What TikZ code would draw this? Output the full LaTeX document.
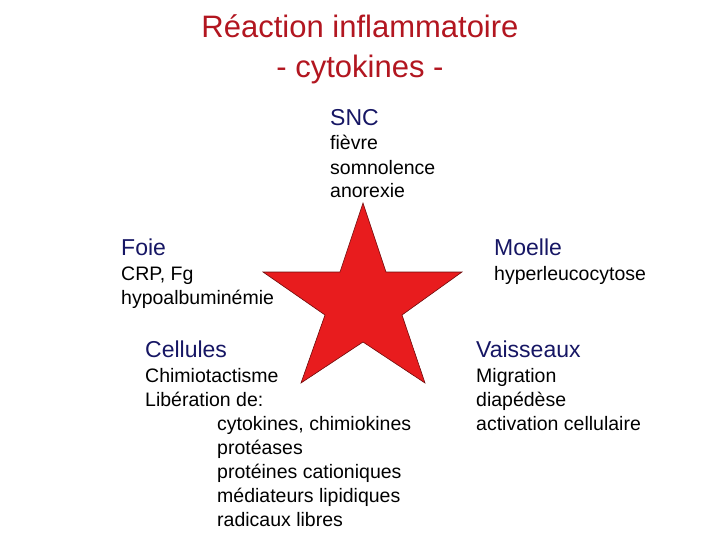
\documentclass[tikz,border=0pt]{standalone}
\usepackage{fontspec}
\setmainfont{Liberation Sans}
\usepackage{tikz}
\usetikzlibrary{positioning}

\definecolor{titlered}{RGB}{178,22,32}
\definecolor{headnavy}{RGB}{22,22,100}
\definecolor{starred}{RGB}{232,28,30}
\definecolor{starline}{RGB}{110,10,10}

\begin{document}
\begin{tikzpicture}[
    x=1pt, y=-1pt,
    title/.style={text=titlered, align=center, inner sep=0pt, font=\fontsize{31}{40}\selectfont},
    head/.style={text=headnavy, anchor=base west, inner sep=0pt, font=\fontsize{23}{24}\selectfont},
    body/.style={anchor=base west, align=left, inner sep=0pt, font=\fontsize{19.5}{24}\selectfont}
]
\useasboundingbox (0,0) rectangle (720,540);

% Title (base = last line)
\node[title, anchor=base] (ttl) at (360,78) {R\'eaction inflammatoire\\- cytokines -};

% Central star
\filldraw[fill=starred, draw=starline, line width=0.6pt]
    (363,203) -- (386,272) -- (462,272) -- (402,315) -- (425,383)
    -- (363,342) -- (301,383) -- (325,315) -- (263,272) -- (340,272) -- cycle;

% Organs: headings
\node[head] (snc) at (330,126) {SNC};
\node[head] (foie) at (121,255) {Foie};
\node[head] (moelle) at (494,255) {Moelle};
\node[head] (cell) at (145,357) {Cellules};
\node[head] (vais) at (476,357) {Vaisseaux};

% Organs: effects (placed by the baseline of their last line)
\node[body] (sncb) at (330,198) {fi\`evre\\somnolence\\anorexie};
\node[body] (foieb) at (121,304) {CRP, Fg\\hypoalbumin\'emie};
\node[body] (moelleb) at (494,280) {hyperleucocytose};
\node[body] (cellb) at (145,526) {Chimiotactisme\\Lib\'eration de:\\
    \hspace*{72pt}cytokines, chimiokines\\
    \hspace*{72pt}prot\'eases\\
    \hspace*{72pt}prot\'eines cationiques\\
    \hspace*{72pt}m\'ediateurs lipidiques\\
    \hspace*{72pt}radicaux libres};
\node[body] (vaisb) at (476,430) {Migration\\diap\'ed\`ese\\activation cellulaire};
\end{tikzpicture}
\end{document}
